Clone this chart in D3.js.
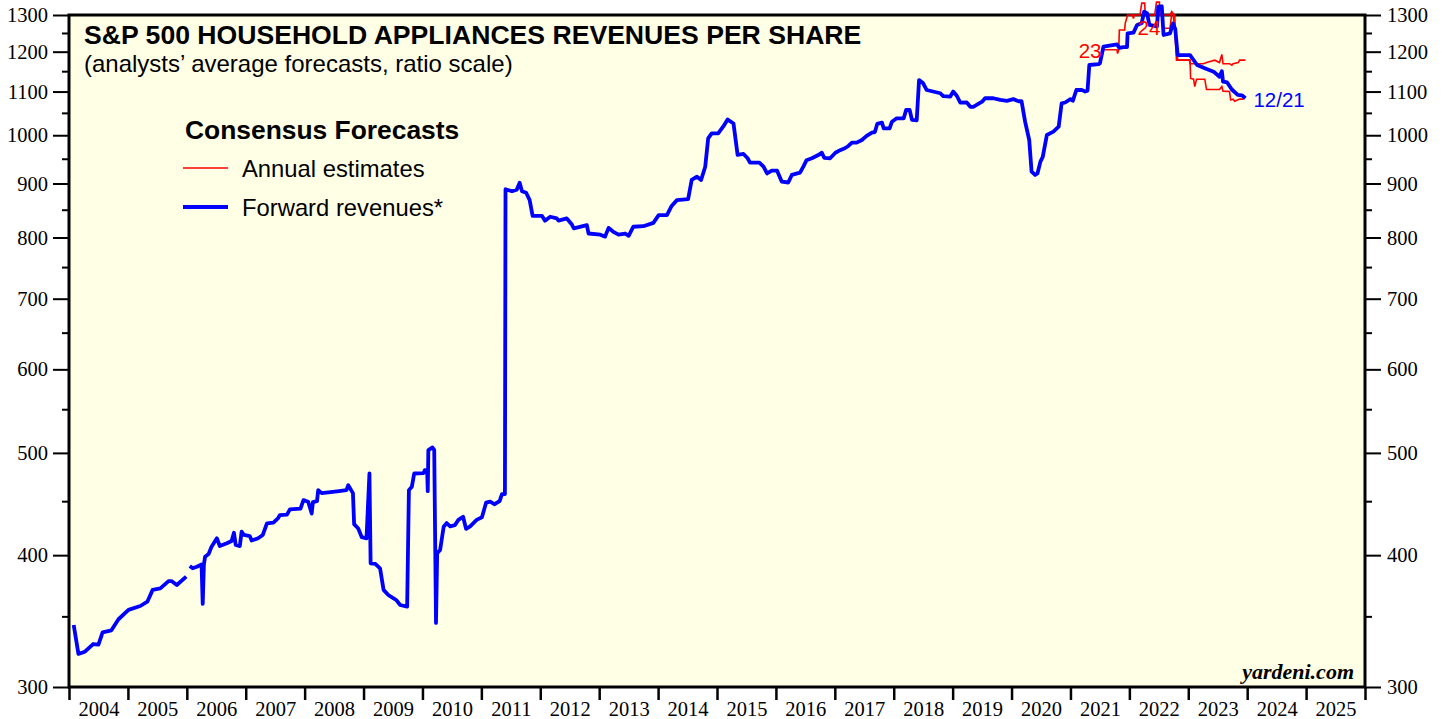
<!DOCTYPE html>
<html>
<head>
<meta charset="utf-8">
<script src="https://cdn.jsdelivr.net/npm/d3@7"></script>
<style>
  body { margin: 0; background: #fff; }
  svg { display: block; }
  .sans { font-family: "Liberation Sans", Arial, sans-serif; }
  .serif { font-family: "Liberation Serif", "Times New Roman", serif; }
</style>
</head>
<body>
<svg id="chart" width="1446" height="719"></svg>
<script>
// axis ticks
const yearBounds = d3.range(2004, 2027);
const yearLabels = d3.range(2004, 2026);
const yMajor = [300, 400, 500, 600, 700, 800, 900, 1000, 1100, 1200, 1300];
const yMinor = [350, 450, 550, 650, 750, 850, 950, 1050, 1150, 1250];

// forward revenues (blue), decimal year / value; null marks the gap early 2006
const fwdDates = [
  2004.08, 2004.16, 2004.27, 2004.41, 2004.50, 2004.57, 2004.72, 2004.84, 2005.01, 2005.21,
  2005.33, 2005.42, 2005.55, 2005.69, 2005.74, 2005.83, 2005.99, 2006.02,
  2006.05, 2006.10, 2006.17, 2006.25, 2006.27, 2006.29, 2006.31, 2006.37, 2006.42, 2006.51,
  2006.56, 2006.68, 2006.76, 2006.80, 2006.83, 2006.90, 2006.93, 2006.97, 2007.07, 2007.10,
  2007.21, 2007.29, 2007.36, 2007.47, 2007.55, 2007.58, 2007.70, 2007.75, 2007.93, 2007.98,
  2008.06, 2008.12, 2008.14, 2008.21, 2008.23, 2008.29, 2008.55, 2008.71, 2008.74, 2008.82,
  2008.84, 2008.91, 2008.97, 2009.05, 2009.10, 2009.12, 2009.20, 2009.28, 2009.34, 2009.42,
  2009.51, 2009.56, 2009.62, 2009.74, 2009.77, 2009.82, 2009.86, 2010.02, 2010.04, 2010.08,
  2010.09, 2010.10, 2010.17, 2010.20, 2010.23, 2010.25, 2010.30, 2010.36, 2010.41, 2010.47,
  2010.55, 2010.61, 2010.69, 2010.74, 2010.81, 2010.92, 2011.01, 2011.08, 2011.15, 2011.22,
  2011.31, 2011.35, 2011.40, 2011.41, 2011.52, 2011.60, 2011.65, 2011.69, 2011.76, 2011.82,
  2011.87, 2012.03, 2012.08, 2012.17, 2012.28, 2012.31, 2012.45, 2012.53, 2012.57, 2012.79,
  2012.82, 2013.02, 2013.10, 2013.16, 2013.24, 2013.33, 2013.44, 2013.50, 2013.58, 2013.75,
  2013.92, 2014.01, 2014.15, 2014.23, 2014.32, 2014.51, 2014.57, 2014.66, 2014.73, 2014.80,
  2014.85, 2014.91, 2015.02, 2015.11, 2015.18, 2015.28, 2015.35, 2015.45, 2015.52, 2015.56,
  2015.72, 2015.79, 2015.85, 2015.93, 2016.02, 2016.10, 2016.21, 2016.27, 2016.41, 2016.47,
  2016.52, 2016.61, 2016.72, 2016.78, 2016.82, 2016.92, 2017.01, 2017.09, 2017.17, 2017.23,
  2017.29, 2017.37, 2017.46, 2017.54, 2017.63, 2017.68, 2017.72, 2017.80, 2017.83, 2017.93,
  2017.97, 2018.05, 2018.17, 2018.21, 2018.27, 2018.31, 2018.39, 2018.43, 2018.50, 2018.56,
  2018.79, 2018.84, 2018.96, 2019.01, 2019.07, 2019.13, 2019.24, 2019.30, 2019.35, 2019.50,
  2019.55, 2019.69, 2019.81, 2019.92, 2020.03, 2020.12, 2020.17, 2020.23, 2020.30, 2020.34,
  2020.40, 2020.44, 2020.49, 2020.53, 2020.60, 2020.71, 2020.80, 2020.85, 2020.91, 2021.00,
  2021.04, 2021.10, 2021.19, 2021.25, 2021.29, 2021.32, 2021.48, 2021.50, 2021.56, 2021.79,
  2021.83, 2021.90, 2021.96, 2021.97, 2022.07, 2022.13, 2022.21, 2022.25, 2022.30, 2022.34,
  2022.47, 2022.49, 2022.55, 2022.58, 2022.69, 2022.74, 2022.78, 2022.82, 2022.92, 2023.03,
  2023.15, 2023.29, 2023.43, 2023.53, 2023.57, 2023.59, 2023.66, 2023.74, 2023.84, 2023.91,
  2023.97
];
const fwdValues = [
  343.5, 322.5, 324, 329.5, 329, 338, 339.5, 347.8, 355, 358,
  361.4, 370.8, 372, 378, 378, 374.8, 381.7, null,
  390.6, 388.7, 390, 392, 359.6, 392, 398.7, 401, 407.5, 415,
  408, 410.5, 412.6, 420, 409, 408, 421, 418, 417, 413,
  415, 418, 428.8, 429.5, 433.6, 436.6, 437, 442, 442.7, 451,
  449.5, 438, 449, 450, 461, 458, 459.8, 461, 466, 458,
  428, 424, 416, 415, 478, 393, 392.4, 388.7, 370.8, 366.7,
  364, 362.5, 358.8, 357.5, 461, 464.5, 478, 478.5, 481.6, 481,
  460, 503, 506, 503, 345, 401.7, 404.6, 425.6, 429, 426,
  427, 432, 435, 423.6, 426, 432, 434.5, 448.5, 449.5, 447,
  450, 457, 457, 888.8, 885, 888, 901.5, 885, 882, 868,
  838.5, 838.5, 830, 837, 834, 830, 834, 824, 816, 822,
  807, 805, 801.5, 817, 810, 805, 807, 803, 819, 820,
  826, 840, 840, 857, 868, 869.7, 907, 913.5, 907, 933.6,
  993, 1004, 1004, 1020, 1035, 1026, 958, 960, 951, 942,
  942, 933.7, 920, 925.6, 925.6, 903.6, 902, 917, 921.6, 935,
  947, 951, 957.7, 962.6, 952, 951, 962.6, 968, 972, 976.8,
  984, 984, 989.7, 998.5, 1005.6, 1007, 1025, 1028, 1015, 1015,
  1030, 1037.7, 1037.7, 1056.6, 1056.6, 1034, 1033, 1128, 1120, 1103.7,
  1096, 1089, 1088, 1100, 1090, 1073.7, 1074, 1064, 1064, 1076,
  1084, 1084, 1080, 1078, 1082, 1077, 1077, 1030, 989.7, 923.5,
  917, 920, 944, 954, 1000.6, 1008, 1018.8, 1072, 1074, 1082,
  1078, 1103.7, 1104, 1100, 1102, 1165.6, 1168, 1170, 1213, 1219,
  1210, 1212, 1212, 1249, 1251, 1272, 1277, 1309.5, 1305, 1272,
  1268, 1323.6, 1325, 1244.5, 1249, 1276, 1260, 1191, 1191, 1191,
  1165.6, 1157, 1148.8, 1136, 1150, 1124, 1122, 1105, 1092, 1091,
  1084
];

// annual estimates (red)
const est23Dates = [
  2021.56, 2021.79, 2021.80, 2021.82, 2021.83, 2021.92, 2021.93, 2021.97, 2022.05, 2022.07,
  2022.08, 2022.18, 2022.21, 2022.26, 2022.27, 2022.43, 2022.46, 2022.51, 2022.52, 2022.69,
  2022.72, 2022.74, 2022.77, 2022.80, 2023.03, 2023.04, 2023.09, 2023.11, 2023.14, 2023.28,
  2023.31, 2023.53, 2023.57, 2023.59, 2023.70, 2023.72, 2023.76, 2023.79, 2023.87, 2023.94
];
const est23Values = [
  1205, 1205, 1195, 1205, 1258, 1258, 1277, 1300, 1300, 1290,
  1300, 1300, 1334, 1334, 1300, 1300, 1337, 1337, 1300, 1300,
  1310, 1305, 1260, 1178, 1178, 1132, 1130, 1112, 1130, 1130,
  1105, 1105, 1112, 1101, 1100, 1080, 1082, 1077, 1082, 1082
];
const est24Dates = [
  2022.56, 2022.69, 2022.72, 2022.77, 2022.78, 2022.82, 2023.02, 2023.03, 2023.26, 2023.31,
  2023.45, 2023.53, 2023.57, 2023.59, 2023.70, 2023.74, 2023.76, 2023.85, 2023.87, 2023.97
];
const est24Values = [
  1263, 1263, 1305, 1300, 1263, 1178, 1178, 1169, 1169, 1172,
  1178, 1172, 1193, 1169, 1169, 1165, 1169, 1172, 1178, 1178
];

const W = 1446, H = 719;
const margin = { top: 15, right: 81, bottom: 32, left: 69 };
const BLUE = '#0000ff', RED = '#ff0000';

const svg = d3.select('#chart');

const x = d3.scaleLinear().domain([2004, 2026]).range([margin.left, W - margin.right]);
const y = d3.scaleLog().domain([300, 1300]).range([H - margin.bottom, margin.top]);

// plot background
svg.append('rect')
  .attr('x', x(2004)).attr('y', y(1300))
  .attr('width', x(2026) - x(2004)).attr('height', y(300) - y(1300))
  .attr('fill', '#ffffe6');

function styleAxis(g, width) {
  g.select('.domain').remove();
  g.selectAll('.tick line').attr('stroke', '#000').attr('stroke-width', width);
}

// left axis
svg.append('g')
  .attr('transform', `translate(${x(2004)},0)`)
  .call(d3.axisLeft(y).tickValues(yMajor).tickSize(16).tickPadding(5).tickFormat(d3.format('d')))
  .call(g => styleAxis(g, 2))
  .call(g => g.selectAll('text').attr('class', 'serif').attr('font-size', 20.5).attr('fill', '#000'));
svg.append('g')
  .attr('transform', `translate(${x(2004)},0)`)
  .call(d3.axisLeft(y).tickValues(yMinor).tickSize(7).tickFormat(''))
  .call(g => styleAxis(g, 2));

// right axis
svg.append('g')
  .attr('transform', `translate(${x(2026)},0)`)
  .call(d3.axisRight(y).tickValues(yMajor).tickSize(16).tickPadding(6).tickFormat(d3.format('d')))
  .call(g => styleAxis(g, 2))
  .call(g => g.selectAll('text').attr('class', 'serif').attr('font-size', 20.5).attr('fill', '#000'));
svg.append('g')
  .attr('transform', `translate(${x(2026)},0)`)
  .call(d3.axisRight(y).tickValues(yMinor).tickSize(7).tickFormat(''))
  .call(g => styleAxis(g, 2));

// bottom axis: ticks on year boundaries, labels mid-year
svg.append('g')
  .attr('transform', `translate(0,${y(300)})`)
  .call(d3.axisBottom(x).tickValues(yearBounds).tickSize(13).tickFormat(''))
  .call(g => styleAxis(g, 2.5));
svg.append('g')
  .attr('transform', `translate(0,${y(300)})`)
  .call(d3.axisBottom(x).tickValues(yearLabels.map(d => d + 0.5)).tickSize(0).tickPadding(14)
    .tickFormat(d => String(Math.floor(d))))
  .call(g => g.select('.domain').remove())
  .call(g => g.selectAll('text').attr('class', 'serif').attr('font-size', 20.5).attr('fill', '#000'));

// frame
svg.append('rect')
  .attr('x', x(2004)).attr('y', y(1300))
  .attr('width', x(2026) - x(2004)).attr('height', y(300) - y(1300))
  .attr('fill', 'none').attr('stroke', '#000').attr('stroke-width', 3);

// series
const line = d3.line()
  .defined(d => d[1] != null)
  .x(d => x(d[0]))
  .y(d => y(d[1]));

const zip = (a, b) => a.map((d, i) => [d, b[i]]);

svg.append('path')
  .datum(zip(est23Dates, est23Values))
  .attr('d', line).attr('fill', 'none').attr('stroke', RED).attr('stroke-width', 1.6);
svg.append('path')
  .datum(zip(est24Dates, est24Values))
  .attr('d', line).attr('fill', 'none').attr('stroke', RED).attr('stroke-width', 1.6);
svg.append('path')
  .datum(zip(fwdDates, fwdValues))
  .attr('d', line).attr('fill', 'none').attr('stroke', BLUE).attr('stroke-width', 3.8)
  .attr('stroke-linejoin', 'round');

// series labels
svg.append('text').attr('class', 'sans')
  .attr('x', x(est23Dates[0]) - 2).attr('y', y(est23Values[0]) + 8)
  .attr('text-anchor', 'end').attr('font-size', 20.5).attr('fill', RED).text('23');
svg.append('text').attr('class', 'sans')
  .attr('x', x(est24Dates[0]) - 2).attr('y', y(est24Values[0]) + 7)
  .attr('text-anchor', 'end').attr('font-size', 20.5).attr('fill', RED).text('24');
svg.append('text').attr('class', 'sans')
  .attr('x', x(fwdDates[fwdDates.length - 1]) + 8).attr('y', y(fwdValues[fwdValues.length - 1]) + 9)
  .attr('font-size', 20.5).attr('fill', BLUE).text('12/21');

// titles
svg.append('text').attr('class', 'sans')
  .attr('x', 84).attr('y', 44)
  .attr('font-size', 26.6).attr('font-weight', 'bold').attr('fill', '#000')
  .text('S&P 500 HOUSEHOLD APPLIANCES REVENUES PER SHARE');
svg.append('text').attr('class', 'sans')
  .attr('x', 84).attr('y', 72)
  .attr('font-size', 24).attr('fill', '#000')
  .text('(analysts’ average forecasts, ratio scale)');

// legend
const legend = svg.append('g').attr('transform', 'translate(185,0)');
legend.append('text').attr('class', 'sans')
  .attr('x', 0).attr('y', 139)
  .attr('font-size', 26.4).attr('font-weight', 'bold').attr('fill', '#000')
  .text('Consensus Forecasts');
const items = [
  { label: 'Annual estimates', color: RED, width: 1.6, y: 168 },
  { label: 'Forward revenues*', color: BLUE, width: 3.8, y: 207 }
];
items.forEach(it => {
  legend.append('line')
    .attr('x1', -2).attr('x2', 43).attr('y1', it.y).attr('y2', it.y)
    .attr('stroke', it.color).attr('stroke-width', it.width);
  legend.append('text').attr('class', 'sans')
    .attr('x', 57).attr('y', it.y + 9)
    .attr('font-size', 23.8).attr('fill', '#000').text(it.label);
});

// source
svg.append('text').attr('class', 'serif')
  .attr('x', 1354).attr('y', 679).attr('text-anchor', 'end')
  .attr('font-size', 22).attr('font-weight', 'bold').attr('font-style', 'italic')
  .attr('fill', '#000').text('yardeni.com');
</script>
</body>
</html>
